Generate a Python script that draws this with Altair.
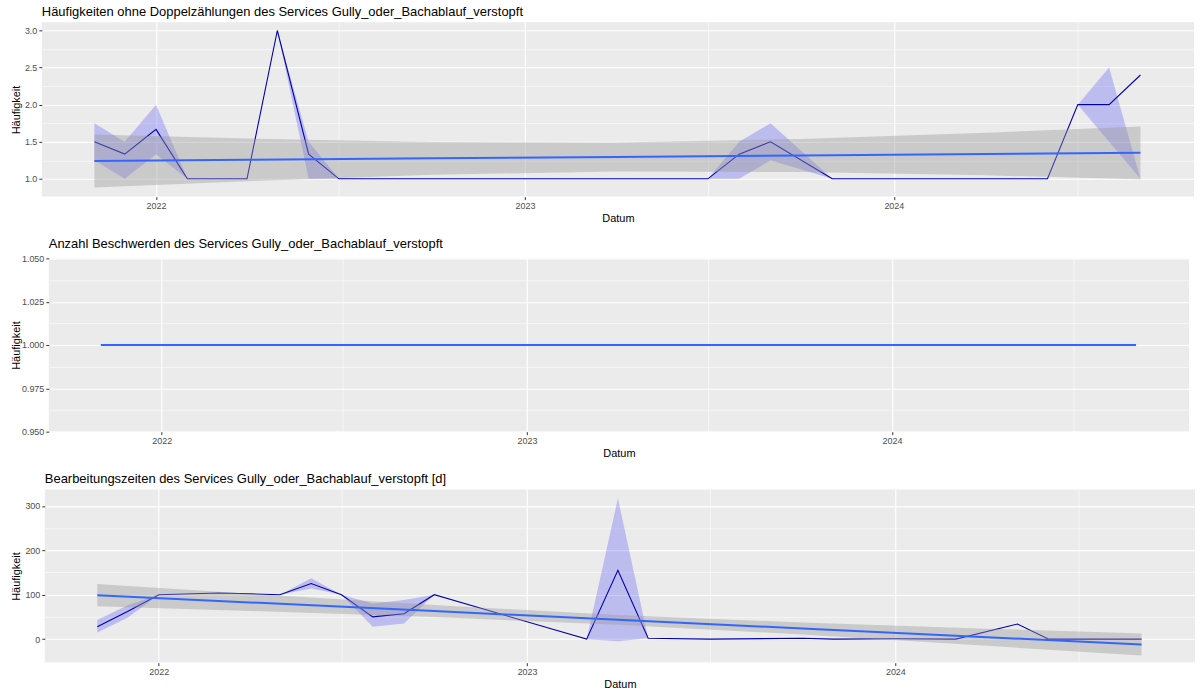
import altair as alt
import pandas as pd

# ---------------- data ----------------
p1_dates = ["2021-11-01", "2021-12-01", "2022-01-01", "2022-02-01", "2022-04-01", "2022-05-01",
            "2022-06-01", "2022-07-01", "2023-07-01", "2023-08-01", "2023-09-01", "2023-11-01",
            "2024-06-01", "2024-07-01", "2024-08-01", "2024-09-01"]
p1_values = [1.5, 1.333, 1.667, 1.0, 1.0, 3.0, 1.333, 1.0, 1.0, 1.333, 1.5, 1.0, 1.0, 2.0, 2.0, 2.4]
p1_low = [1.25, 1.0, 1.333, 1.0, 1.0, 3.0, 1.0, 1.0, 1.0, 1.0, 1.25, 1.0, 1.0, 2.0, 1.5, 1.0]
p1_high = [1.75, 1.5, 2.0, 1.0, 1.0, 3.0, 1.5, 1.0, 1.0, 1.5, 1.75, 1.0, 1.0, 2.0, 2.5, 1.0]

p3_dates = ["2021-11-01", "2021-12-01", "2022-01-01", "2022-03-01", "2022-04-01", "2022-05-01",
            "2022-06-01", "2022-07-01", "2022-08-01", "2022-09-01", "2022-10-01", "2023-03-01",
            "2023-04-01", "2023-05-01", "2023-07-01", "2023-10-01", "2023-11-01", "2024-01-01",
            "2024-03-01", "2024-05-01", "2024-06-01", "2024-09-01"]
p3_values = [28, 62, 100, 104, 102, 100, 125, 100, 50, 57, 100, 0, 155, 2, 0, 2, 0, 1, 0, 34, 0, 0]
p3_low = [15, 48, 100, 104, 102, 100, 114, 100, 28, 35, 100, 0, -5, 2, 0, 2, 0, 1, 0, 34, 0, 0]
p3_high = [43, 76, 100, 104, 102, 100, 137, 100, 80, 88, 100, 0, 317, 2, 0, 2, 0, 1, 0, 34, 0, 0]

fit_dates = ["2021-11-01", "2022-04-01", "2022-10-01", "2023-04-01", "2023-10-01", "2024-04-01", "2024-09-01"]
p1_fit = [1.240, 1.256, 1.276, 1.295, 1.314, 1.334, 1.350]
p1_fit_low = [0.883, 0.969, 1.054, 1.100, 1.092, 1.047, 0.993]
p1_fit_high = [1.597, 1.543, 1.498, 1.490, 1.536, 1.621, 1.707]

p2_dates = ["2021-11-01", "2024-09-01"]
p2_fit = [1.0, 1.0]

p3_fit = [99.0, 82.7, 63.1, 43.5, 23.9, 4.3, -12.1]
p3_fit_low = [74.0, 63.4, 49.6, 32.5, 10.4, -15.0, -37.1]
p3_fit_high = [124.0, 102.0, 76.6, 54.5, 37.4, 23.6, 12.9]

titles = [
    "Häufigkeiten ohne Doppelzählungen des Services Gully_oder_Bachablauf_verstopft",
    "Anzahl Beschwerden des Services Gully_oder_Bachablauf_verstopft",
    "Bearbeitungszeiten des Services Gully_oder_Bachablauf_verstopft [d]",
]

FONT = "Liberation Sans"
PANEL_BG = "#EBEBEB"


def local(ds):
    return [d + "T00:00:00" for d in ds]


df1 = pd.DataFrame({"date": local(p1_dates), "v": p1_values, "lo": p1_low, "hi": p1_high})
df3 = pd.DataFrame({"date": local(p3_dates), "v": p3_values, "lo": p3_low, "hi": p3_high})
fit1 = pd.DataFrame({"date": local(fit_dates), "f": p1_fit, "lo": p1_fit_low, "hi": p1_fit_high})
fit2 = pd.DataFrame({"date": local(p2_dates), "f": p2_fit, "lo": p2_fit, "hi": p2_fit})
fit3 = pd.DataFrame({"date": local(fit_dates), "f": p3_fit, "lo": p3_fit_low, "hi": p3_fit_high})

x_vals = [alt.DateTime(year=y, month=m, date=1) for y in (2022, 2023, 2024) for m in (1, 7)]
x_domain = [alt.DateTime(year=2021, month=9, date=10), alt.DateTime(year=2024, month=10, date=24)]

MAJ_X = "month(datum.value) == 0"


def x_enc():
    return alt.X(
        "date:T",
        scale=alt.Scale(domain=x_domain),
        axis=alt.Axis(
            title="Datum", values=x_vals,
            labelExpr="month(datum.value) == 0 ? timeFormat(datum.value, '%Y') : ''",
            grid=True, gridColor="white",
            gridWidth={"condition": {"test": MAJ_X, "value": 1.1}, "value": 0.55},
            tickOpacity={"condition": {"test": MAJ_X, "value": 1}, "value": 0},
            domain=False, tickColor="#333333", tickSize=3, labelPadding=2,
            labelColor="#4D4D4D", labelFontSize=9, labelFont=FONT,
            titleFont=FONT, titleFontSize=11, titleFontWeight="normal", titleColor="black",
            titlePadding=2, labelFlush=False, labelOverlap=False,
        ),
    )


def y_axis(values, test, fmt, tpad):
    return alt.Axis(
        title="Häufigkeit", values=values,
        labelExpr=f"({test}) ? format(datum.value, '{fmt}') : ''",
        grid=True, gridColor="white",
        gridWidth={"condition": {"test": test, "value": 1.1}, "value": 0.55},
        tickOpacity={"condition": {"test": test, "value": 1}, "value": 0},
        domain=False, tickColor="#333333", tickSize=3, labelPadding=2,
        labelColor="#4D4D4D", labelFontSize=9, labelFont=FONT,
        titleFont=FONT, titleFontSize=11, titleFontWeight="normal", titleColor="black",
        titlePadding=tpad, labelOverlap=False, labelFlush=False,
    )


spacer_df = pd.DataFrame({"a": [0]})


def panel(title, data, fit, ydomain, yvalues, test, fmt, w, h, tpad=3, show_data=True, band=True):
    ysc = alt.Scale(domain=ydomain, nice=False, zero=False)
    ax = y_axis(yvalues, test, fmt, tpad)
    layers = []
    if show_data:
        ribbon = alt.Chart(data).mark_area(color="blue", opacity=0.2).encode(
            x=x_enc(), y=alt.Y("lo:Q", scale=ysc, axis=ax), y2="hi:Q")
        line = alt.Chart(data).mark_line(color="#0000B0", strokeWidth=1.1).encode(
            x=x_enc(), y=alt.Y("v:Q", scale=ysc, axis=ax))
        layers += [ribbon, line]
    if band:
        bnd = alt.Chart(fit).mark_area(color="#999999", opacity=0.4).encode(
            x=x_enc(), y=alt.Y("lo:Q", scale=ysc, axis=ax), y2="hi:Q")
        layers.append(bnd)
    fl = alt.Chart(fit).mark_line(color="#3366FF", strokeWidth=2).encode(
        x=x_enc(), y=alt.Y("f:Q", scale=ysc, axis=ax))
    layers.append(fl)
    layered = alt.layer(*layers).properties(
        width=w, height=h,
        view=alt.ViewBackground(fill=PANEL_BG, stroke=None),
        title=alt.TitleParams(title, anchor="start", frame="group", fontSize=13, font=FONT,
                              fontWeight="normal", color="black", offset=-10, baseline="bottom"),
    )
    # invisible 1px spacer so each row starts at the same left edge (rows aligned by full bounds)
    spacer = alt.Chart(spacer_df).mark_point(opacity=0).encode(
        x=alt.value(0), y=alt.value(0)
    ).properties(width=1, height=1, view=alt.ViewBackground(fill="white", stroke=None))
    return alt.hconcat(spacer, layered, spacing=0)


c1 = panel(titles[0], df1, fit1, [0.76, 3.11],
           [1.0, 1.25, 1.5, 1.75, 2.0, 2.25, 2.5, 2.75, 3.0],
           "abs(datum.value*2 - round(datum.value*2)) < 0.001", ".1f", 1157, 175)
c2 = panel(titles[1], None, fit2, [0.95, 1.05],
           [0.95, 0.9625, 0.975, 0.9875, 1.0, 1.0125, 1.025, 1.0375, 1.05],
           "abs(datum.value*40 - round(datum.value*40)) < 0.001", ".3f", 1145, 174,
           tpad=0, show_data=False, band=False)
c3 = panel(titles[2], df3, fit3, [-53, 337],
           [-50, 0, 50, 100, 150, 200, 250, 300],
           "datum.value % 100 == 0", "d", 1155, 174)

chart = alt.ConcatChart(concat=[c1, c2, c3], columns=1, spacing=15).properties(
    padding={"left": 4, "top": 5, "right": 5, "bottom": 2},
    background="white",
).configure_view(stroke=None)

chart.save("out.html", embed_options={"renderer": "svg", "actions": False})
